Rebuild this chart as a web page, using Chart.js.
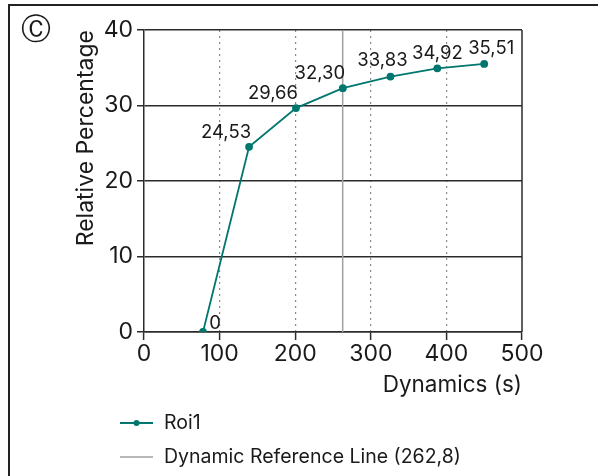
<!DOCTYPE html>
<html><head><meta charset="utf-8">
<script src="https://cdn.jsdelivr.net/npm/chart.js@4.4.1/dist/chart.umd.min.js"></script>
<style>html,body{margin:0;padding:0;background:#fff;}canvas{display:block;}</style>
</head><body>
<canvas id="c" width="599" height="476"></canvas>
<script>
// ---- data ----
const xValues = [78, 139, 201, 263, 326, 388, 450];
const roiValues = [0, 24.53, 29.66, 32.30, 33.83, 34.92, 35.51];
const refLineX = 262.8;
const yRange = [0, 40];
const xRange = [0, 500];
const xStep = 100;
const yStep = 10;
const seriesName = 'Roi1';
const refName = 'Dynamic Reference Line (262,8)';
const xTitle = 'Dynamics (s)';
const yTitle = 'Relative Percentage';

// ---- style ----
const FONT = 'Inter';
const TEXT = '#1a1a1a';
const AXIS = '#2b2b2b';
const TEAL = '#00776e';
const REF = '#a0a0a0';

const fmt = v => v === 0 ? '0' : v.toFixed(2).replace('.', ',');

const framePlugin = {
  id: 'frame',
  beforeDraw(chart) {
    const ctx = chart.ctx;
    ctx.save();
    ctx.fillStyle = '#fff';
    ctx.fillRect(0, 0, chart.width, chart.height);
    ctx.strokeStyle = '#222';
    ctx.lineWidth = 2;
    ctx.beginPath();
    ctx.moveTo(9, chart.height);
    ctx.lineTo(9, 5);
    ctx.lineTo(598, 5);
    ctx.stroke();
    ctx.fillStyle = TEXT;
    ctx.font = '30px "DejaVu Sans"';
    ctx.textAlign = 'center';
    ctx.textBaseline = 'middle';
    ctx.fillText('\u24B8', 36, 31);
    ctx.restore();
  },
  afterDatasetsDraw(chart) {
    const a = chart.chartArea, ctx = chart.ctx;
    ctx.save();
    ctx.strokeStyle = AXIS;
    ctx.lineWidth = 1.5;
    ctx.beginPath();
    ctx.moveTo(a.right, a.top);
    ctx.lineTo(a.right, a.bottom);
    ctx.stroke();
    ctx.restore();
  }
};

const labelPlugin = {
  id: 'vlabels',
  afterDatasetsDraw(chart, args, opts) {
    const meta = chart.getDatasetMeta(0);
    const ctx = chart.ctx;
    ctx.save();
    ctx.font = opts.size + 'px ' + FONT;
    ctx.fillStyle = TEXT;
    ctx.textAlign = 'center';
    ctx.textBaseline = 'middle';
    meta.data.forEach((pt, i) => {
      const o = opts.offsets[i];
      ctx.fillText(fmt(roiValues[i]), pt.x + o[0], pt.y + o[1]);
    });
    ctx.restore();
  }
};

const legendPlugin = {
  id: 'customLegend',
  afterDraw(chart, args, opts) {
    const ctx = chart.ctx;
    ctx.save();
    ctx.font = opts.size + 'px ' + FONT;
    ctx.textBaseline = 'middle';
    ctx.textAlign = 'left';
    chart.data.datasets.forEach((ds, i) => {
      const y = opts.y + i * opts.gap;
      ctx.strokeStyle = ds.borderColor;
      ctx.lineWidth = ds.borderWidth;
      ctx.beginPath();
      ctx.moveTo(opts.x, y);
      ctx.lineTo(opts.x + 33, y);
      ctx.stroke();
      if (ds.pointRadius > 0) {
        ctx.fillStyle = ds.pointBackgroundColor;
        ctx.beginPath();
        ctx.arc(opts.x + 16.5, y, ds.pointRadius, 0, Math.PI * 2);
        ctx.fill();
      }
      ctx.fillStyle = TEXT;
      ctx.fillText(ds.label, opts.x + 44, y);
    });
    ctx.restore();
  }
};

new Chart(document.getElementById('c'), {
  type: 'scatter',
  data: {
    datasets: [
      {
        label: seriesName,
        data: xValues.map((x, i) => ({ x, y: roiValues[i] })),
        showLine: true,
        borderColor: TEAL,
        backgroundColor: TEAL,
        pointBackgroundColor: TEAL,
        pointBorderColor: TEAL,
        borderWidth: 1.8,
        pointRadius: 3,
        order: 0
      },
      {
        label: refName,
        data: [{ x: refLineX, y: yRange[0] }, { x: refLineX, y: yRange[1] }],
        showLine: true,
        borderColor: REF,
        borderWidth: 1.5,
        pointRadius: 0,
        order: 1
      }
    ]
  },
  options: {
    responsive: false,
    animation: false,
    events: [],
    layout: { padding: { top: 30, right: 77, left: 0, bottom: 0 } },
    plugins: {
      legend: { display: false },
      tooltip: { enabled: false },
      vlabels: { size: 18.5, offsets: [[12, -9], [-23, -14], [-23, -15], [-23, -15], [-8, -16], [0, -15], [7, -15]] },
      customLegend: { size: 19.5, x: 120, y: 423, gap: 34 }
    },
    scales: {
      x: {
        type: 'linear',
        min: xRange[0], max: xRange[1],
        afterFit: s => { s.height = 144; },
        ticks: { stepSize: xStep, font: { family: FONT, size: 23 }, color: TEXT, padding: 0, maxRotation: 0 },
        grid: {
          color: c => (c.tick && (c.tick.value === xRange[0] || c.tick.value === xRange[1])) ? 'rgba(0,0,0,0)' : '#8a8a8a',
          lineWidth: 1.2,
          tickColor: AXIS,
          tickLength: 8,
          tickWidth: 1.5,
          tickBorderDash: []
        },
        border: { display: true, color: AXIS, width: 1.5, dash: [2, 4] },
        title: { display: true, text: xTitle, align: 'end', color: TEXT, font: { family: FONT, size: 22.5 }, padding: { top: 0, bottom: 77.5 } }
      },
      y: {
        min: yRange[0], max: yRange[1],
        afterFit: s => { s.width = 144; },
        ticks: { stepSize: yStep, font: { family: FONT, size: 23 }, color: TEXT, padding: 4 },
        grid: { color: AXIS, lineWidth: 1.5, tickColor: AXIS, tickLength: 7, tickWidth: 1.5 },
        border: { display: true, color: AXIS, width: 1.5 },
        title: { display: true, text: yTitle, align: 'end', color: TEXT, font: { family: FONT, size: 23 }, padding: { top: 72, bottom: 0 } }
      }
    }
  },
  plugins: [framePlugin, labelPlugin, legendPlugin]
});
</script>
</body></html>
